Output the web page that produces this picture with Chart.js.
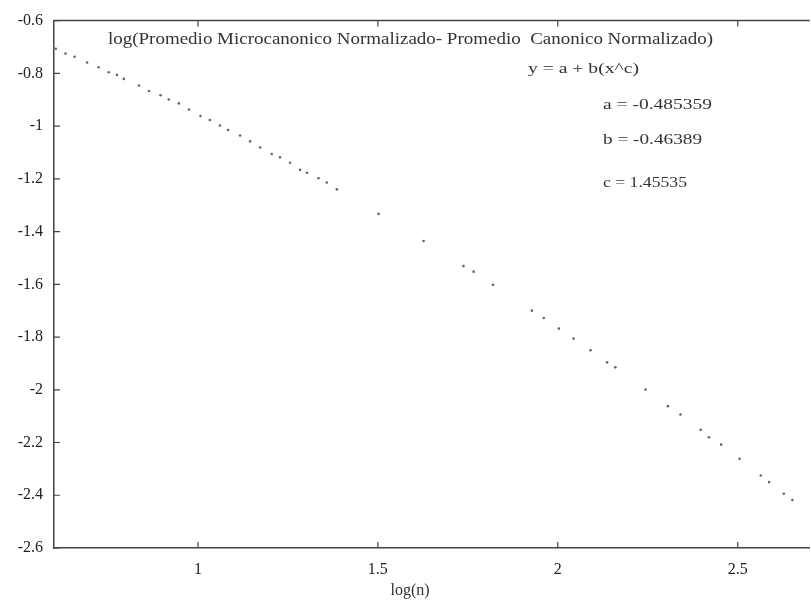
<!DOCTYPE html>
<html><head><meta charset="utf-8">
<script src="https://cdn.jsdelivr.net/npm/chart.js@4"></script>
<style>html,body{margin:0;padding:0;background:#fff}#w{width:811px;height:610px}</style>
</head><body><div id="w"><canvas id="c" width="811" height="610"></canvas></div>
<script>
// ---- data ----
const logN = [0.605,0.632,0.657,0.692,0.724,0.752,0.775,0.794,0.836,0.864,0.896,0.919,0.947,0.975,1.007,
  1.033,1.061,1.084,1.117,1.145,1.173,1.205,1.228,1.256,1.284,1.303,1.335,1.358,1.386,
  1.502,1.627,1.738,1.766,1.820,1.928,1.961,2.003,2.044,2.091,2.137,2.160,2.244,2.306,2.341,2.397,2.420,2.454,
  2.505,2.564,2.587,2.628,2.652];
const logDiff = [-0.707,-0.725,-0.737,-0.759,-0.777,-0.796,-0.806,-0.821,-0.846,-0.867,-0.883,-0.899,-0.914,-0.937,-0.962,
  -0.977,-0.998,-1.015,-1.036,-1.058,-1.081,-1.106,-1.118,-1.139,-1.166,-1.177,-1.198,-1.214,-1.240,
  -1.333,-1.436,-1.531,-1.552,-1.602,-1.700,-1.728,-1.768,-1.806,-1.850,-1.896,-1.915,-1.999,-2.062,-2.094,-2.152,-2.180,-2.208,
  -2.262,-2.325,-2.350,-2.394,-2.418];
const xTicks = [1, 1.5, 2, 2.5];
const yTicks = [-0.6,-0.8,-1,-1.2,-1.4,-1.6,-1.8,-2,-2.2,-2.4,-2.6];
const titleText = "log(Promedio Microcanonico Normalizado- Promedio  Canonico Normalizado)";
const fitLines = ["y = a + b(x^c)", "a = -0.485359", "b = -0.46389", "c = 1.45535"];
const xLabel = "log(n)";

const FONT = "'Liberation Serif','DejaVu Serif',serif";
const fmt = v => String(Number(v.toFixed(2)));

function fitText(ctx, txt, x, y, w){
  const m = ctx.measureText(txt).width;
  ctx.save(); ctx.translate(x, y); ctx.scale(w / m, 1); ctx.fillText(txt, 0, 0); ctx.restore();
}

const frame = {
  id: 'frame',
  afterDraw(chart){
    const {ctx, chartArea: a, scales: {x, y}} = chart;
    ctx.save();
    ctx.strokeStyle = '#444';
    ctx.lineWidth = 1.5;
    ctx.beginPath(); ctx.moveTo(a.left, a.top); ctx.lineTo(a.right, a.top); ctx.stroke();
    ctx.lineWidth = 1.2;
    ctx.beginPath();
    xTicks.forEach(v => {
      const px = x.getPixelForValue(v);
      ctx.moveTo(px, a.bottom); ctx.lineTo(px, a.bottom - 6);
      ctx.moveTo(px, a.top); ctx.lineTo(px, a.top + 6);
    });
    yTicks.forEach(v => {
      const py = y.getPixelForValue(v);
      ctx.moveTo(a.left, py); ctx.lineTo(a.left + 6, py);
    });
    ctx.stroke();
    ctx.fillStyle = '#333';
    ctx.textBaseline = 'middle';
    ctx.textAlign = 'left';
    ctx.font = '17px ' + FONT;
    fitText(ctx, titleText, a.left + 54, a.top + 19, 605);
    ctx.font = '15px ' + FONT;
    fitText(ctx, fitLines[0], a.left + 474, a.top + 48, 111);
    fitText(ctx, fitLines[1], a.left + 549, a.top + 84, 109);
    fitText(ctx, fitLines[2], a.left + 549, a.top + 119, 99);
    fitText(ctx, fitLines[3], a.left + 549, a.top + 162, 84);
    ctx.textAlign = 'center';
    ctx.font = '16px ' + FONT;
    ctx.fillText(xLabel, 410, a.bottom + 43);
    ctx.restore();
  }
};

new Chart(document.getElementById('c'), {
  type: 'scatter',
  data: { datasets: [{
    data: logN.map((v, i) => ({x: v, y: logDiff[i]})),
    pointRadius: 1.3, pointHoverRadius: 1.3,
    backgroundColor: '#666', borderColor: '#666', borderWidth: 0, showLine: false
  }]},
  options: {
    responsive: false, animation: false, devicePixelRatio: 1,
    layout: { padding: { top: 14, right: 0, left: 0, bottom: 0 } },
    plugins: { legend: { display: false }, tooltip: { enabled: false }, title: { display: false } },
    scales: {
      x: {
        type: 'linear', min: 0.6, max: 2.7,
        afterBuildTicks: s => { s.ticks = xTicks.map(v => ({value: v})); },
        afterFit: s => { s.height = 62; },
        grid: { drawOnChartArea: false, drawTicks: false },
        border: { display: true, color: '#444', width: 1.5 },
        ticks: { color: '#222', font: { family: FONT, size: 16 }, padding: 12, callback: v => fmt(v), maxRotation: 0 }
      },
      y: {
        type: 'linear', min: -2.6, max: -0.6,
        afterBuildTicks: s => { s.ticks = yTicks.map(v => ({value: v})); },
        afterFit: s => { s.width = 54; },
        grid: { drawOnChartArea: false, drawTicks: false },
        border: { display: true, color: '#444', width: 1.5 },
        ticks: { color: '#222', font: { family: FONT, size: 16 }, padding: 11, callback: v => fmt(v) }
      }
    }
  },
  plugins: [frame]
});
</script></body></html>
